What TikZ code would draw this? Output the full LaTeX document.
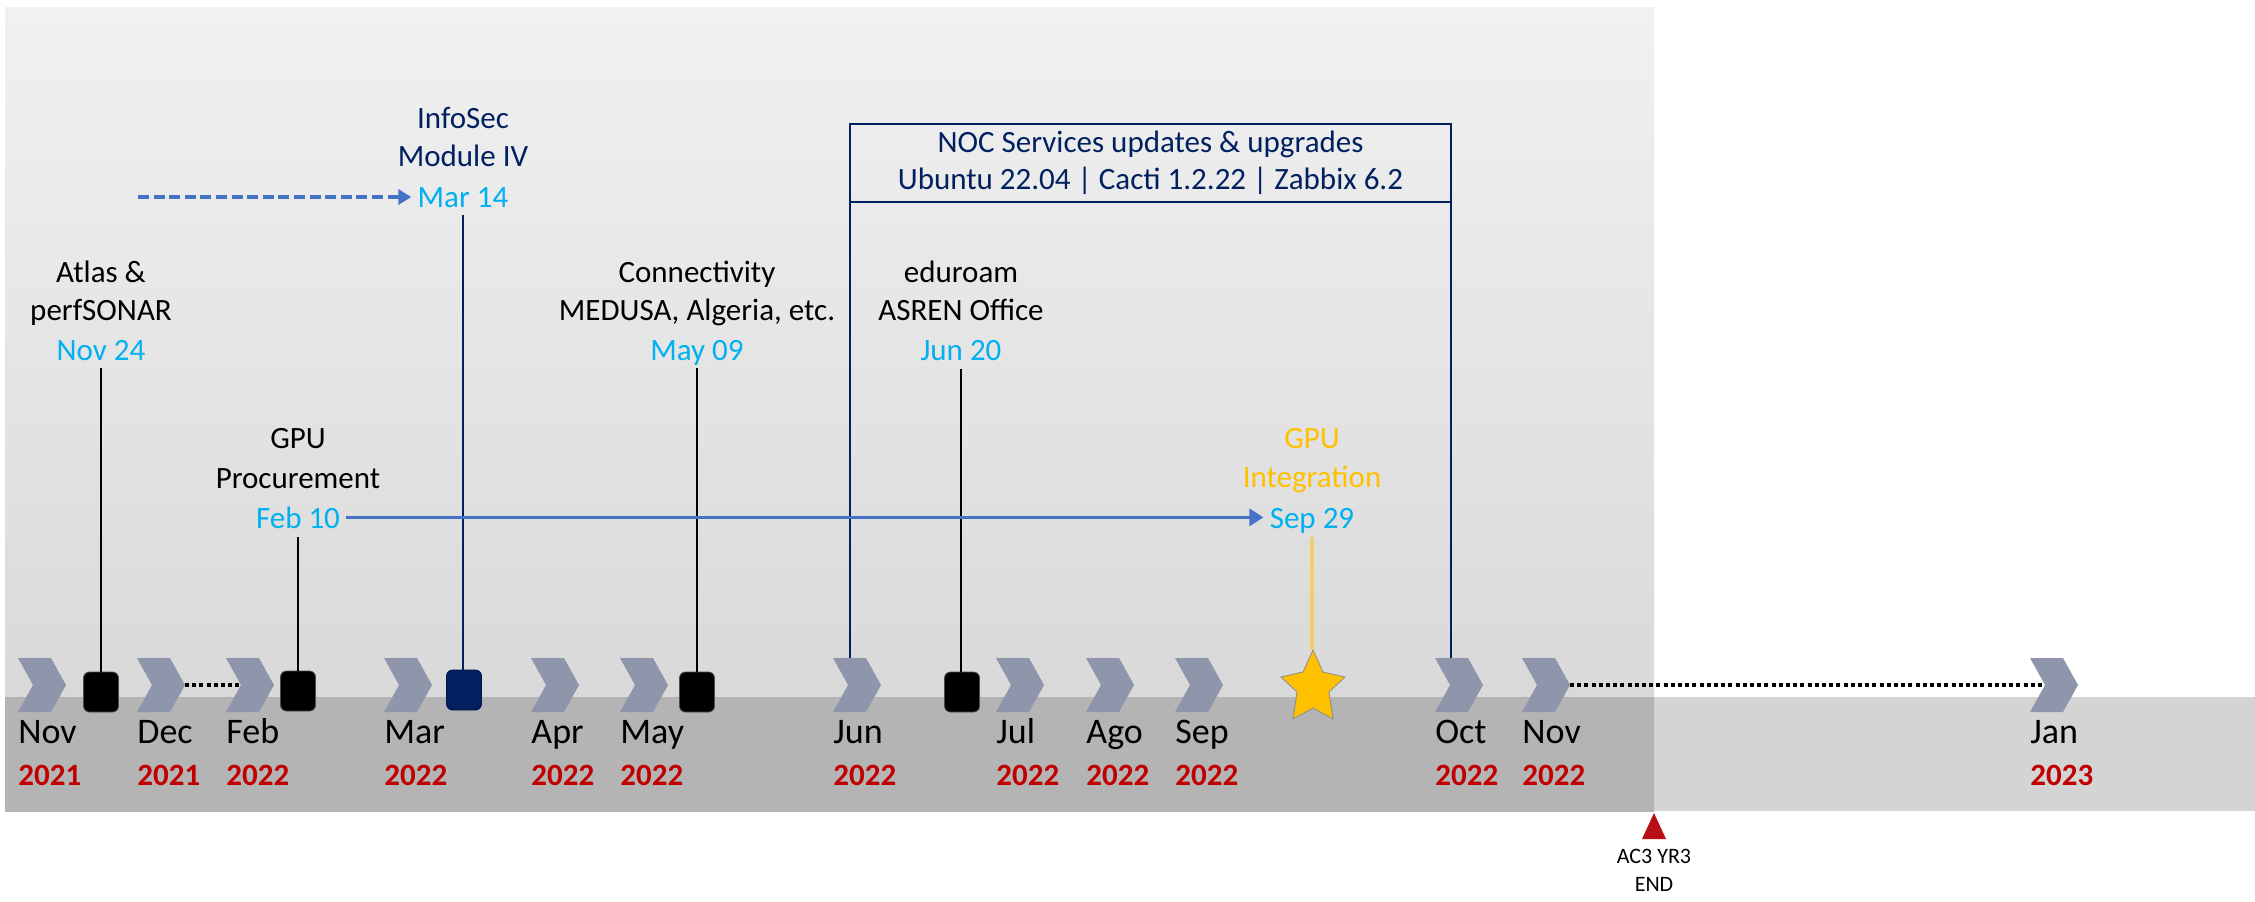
\documentclass[tikz,border=0pt]{standalone}
\usepackage{fontspec}
\setmainfont{Carlito}
\usetikzlibrary{arrows.meta}
\definecolor{cyanc}{HTML}{00B0F0}
\definecolor{navyc}{HTML}{002060}
\definecolor{redc}{HTML}{C00000}
\definecolor{goldc}{HTML}{FFC000}
\definecolor{goldl}{RGB}{240,205,110}
\definecolor{bluec}{HTML}{4472C4}
\definecolor{chevc}{RGB}{143,150,171}
\definecolor{bandd}{RGB}{180,180,180}
\definecolor{bandl}{RGB}{212,212,212}
\definecolor{tric}{HTML}{B80F14}
\begin{document}
\begin{tikzpicture}[x=0.5pt,y=-0.5pt,
  lbl/.style={anchor=base, font=\fontsize{15.5}{19}\selectfont, inner sep=3pt},
  mon/.style={anchor=base west, font=\fontsize{18}{22}\selectfont, inner sep=0pt},
  yr/.style={anchor=base west, font=\fontsize{15.5}{19}\selectfont\bfseries, text=redc, inner sep=0pt},
  sqbox/.style={rounded corners=3pt, minimum width=17.5pt, minimum height=20pt, inner sep=0pt, fill=black, draw=black!70, line width=0.4pt},
  chev/.style={fill=chevc},
  blkline/.style={draw=black, line width=0.8pt},
  navyline/.style={draw=navyc, line width=0.8pt},
  dotl/.style={draw=black, line width=1.6pt, dash pattern=on 2pt off 1.6pt},
  barrow/.style={draw=bluec, line width=1.7pt, -{Triangle[length=7pt,width=8.5pt]}},
  darrow/.style={draw=bluec, line width=1.8pt, dash pattern=on 5.5pt off 2.3pt, -{Triangle[length=6.5pt,width=7.5pt]}}]
\useasboundingbox (0,0) rectangle (2255,901);
\fill[white] (0,0) rectangle (2255,901);
% background
\fill[bandl] (1654,697) rectangle (2255,811);
\shade[top color={rgb,255:red,241;green,241;blue,241}, bottom color={rgb,255:red,217;green,217;blue,217}] (5,7) rectangle (1654,697);
\fill[bandd] (5,697) rectangle (1654,812);
% chevron coordinates
\foreach \x/\n in {18/chNova,137/chDec,226/chFeb,384/chMar,531/chApr,620/chMay,833/chJun,996/chJul,1086/chAgo,1175/chSep,1435/chOct,1522/chNovb,2030/chJan}{
  \coordinate (\n) at (\x+24,658);
  \coordinate (\n-t) at (\x+48,685);
  \coordinate (\n-n) at (\x+15,685);
}
% dotted links
\draw[dotl] (chDec-t) -- (chFeb-n);
\draw[dotl] (chNovb-t) -- (chJan-n);
% chevrons
\foreach \x in {18,137,226,384,531,620,833,996,1086,1175,1435,1522,2030}{
  \fill[chev] (\x,658) -- ++(33,0) -- ++(15,27) -- ++(-15,27) -- ++(-33,0) -- ++(15,-27) -- cycle;
}
% month and year labels
\foreach \x/\m/\yy/\n in {18/Nov/2021/a,137/Dec/2021/b,226/Feb/2022/c,384/Mar/2022/d,531/Apr/2022/e,620/May/2022/f,833/Jun/2022/g,996/Jul/2022/h,1086/Ago/2022/i,1175/Sep/2022/j,1435/Oct/2022/k,1522/Nov/2022/l,2030/Jan/2023/m}{
  \node[mon] (m\n) at (\x,743) {\m};
  \node[yr] (y\n) at (\x,785) {\yy};
}
% milestone squares
\node[sqbox] (sqNov) at (101,692) {};
\node[sqbox] (sqFeb) at (298,691) {};
\node[sqbox, fill=navyc, draw=navyc!70!black] (sqMar) at (464,690) {};
\node[sqbox] (sqMay) at (697,692) {};
\node[sqbox] (sqJun) at (962,692) {};
% star
\fill[goldc, draw=black!45, line width=0.4pt] (1313,650) -- (1323,672) -- (1345,677) -- (1329,692) -- (1333,719) -- (1313,708) -- (1293,719) -- (1297,692) -- (1281,677) -- (1303,672) -- cycle;
\coordinate (startop) at (1313,650);
% labels
\node[lbl, text=navyc] (infoA) at (463,128) {InfoSec};
\node[lbl, text=navyc] (infoB) at (463,166) {Module IV};
\node[lbl, text=cyanc] (mar14) at (463,207) {Mar 14};
\node[lbl] (atlasA) at (101,282) {Atlas \&};
\node[lbl] (atlasB) at (101,320) {perfSONAR};
\node[lbl, text=cyanc] (nov24) at (101,360) {Nov 24};
\node[lbl] (connA) at (697,282) {Connectivity};
\node[lbl] (connB) at (697,320) {MEDUSA, Algeria, etc.};
\node[lbl, text=cyanc] (may09) at (697,360) {May 09};
\node[lbl] (eduA) at (961,282) {eduroam};
\node[lbl] (eduB) at (961,320) {ASREN Office};
\node[lbl, text=cyanc] (jun20) at (961,360) {Jun 20};
\node[lbl] (gpuA) at (298,448) {GPU};
\node[lbl] (gpuB) at (298,488) {Procurement};
\node[lbl, text=cyanc] (feb10) at (298,528) {Feb 10};
\node[lbl, text=goldc] (gpiA) at (1312,448) {GPU};
\node[lbl, text=goldc] (gpiB) at (1312,487) {Integration};
\node[lbl, text=cyanc] (sep29) at (1312,528) {Sep 29};
% NOC box
\node[draw=navyc, line width=0.9pt, outer sep=0pt, inner sep=0pt, minimum width=300.5pt, minimum height=39pt, align=center, text=navyc, font=\fontsize{15.5}{18.5}\selectfont] (noc) at (1150.5,163) {NOC Services updates \& upgrades\\Ubuntu 22.04 | Cacti 1.2.22 | Zabbix 6.2};
\draw[navyline] (noc.south west) -- (noc.south west |- chJun);
\draw[navyline] (noc.south east) -- (noc.south east |- chOct);
% connectors
\draw[blkline] ([yshift=-4pt]nov24.base) -- (sqNov.north);
\draw[navyline] ([yshift=-4pt]mar14.base) -- (mar14.base |- sqMar.north);
\draw[blkline] ([yshift=-4pt]may09.base) -- (sqMay.north);
\draw[blkline] ([yshift=-4.5pt]jun20.base) -- (jun20.base |- sqJun.north);
\draw[blkline] ([yshift=-4.5pt]feb10.base) -- (sqFeb.north);
\draw[draw=goldl, line width=1.6pt] ([yshift=-4.5pt]sep29.base) -- (sep29.base |- startop);
% arrows
\draw[barrow] (feb10.east) -- (feb10.east -| sep29.west);
\coordinate (dstart) at (138,197);
\draw[darrow] (dstart) -- (dstart -| mar14.west);
% end marker
\fill[tric] (1642,839) -- (1666,839) -- (1654,813) -- cycle;
\node[anchor=base, inner sep=0pt, font=\fontsize{11}{14}\selectfont] (acA) at (1654,863) {AC3 YR3};
\node[anchor=base, inner sep=0pt, font=\fontsize{11}{14}\selectfont] (acB) at (1654,891) {END};
\end{tikzpicture}
\end{document}
